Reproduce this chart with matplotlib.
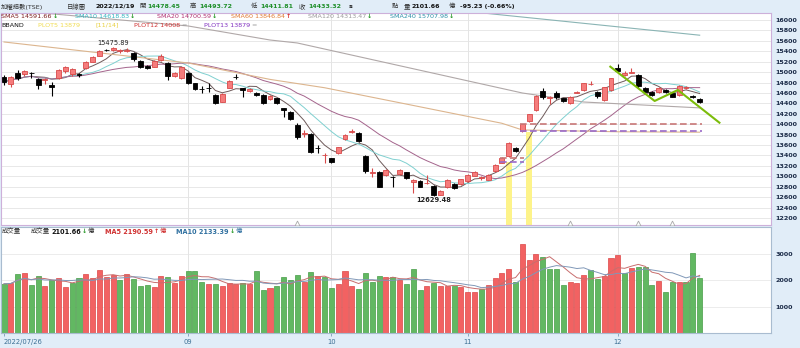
import numpy as np
import pandas as pd
import matplotlib.pyplot as plt

plt.rcParams['font.family'] = ['DejaVu Sans', 'Noto Sans CJK TC']

# daily OHLC, 2022/07/26 .. 2022/12/19
opens = [14912, 14766, 14977, 14958, 14985, 14862, 14849, 14753, 14881, 15021,
         14958, 14960, 15085, 15200, 15315, 15430, 15419, 15405, 15400, 15361,
         15213, 15123, 15104, 15227, 15181, 14925, 14881, 14977, 14785, 14680,
         14695, 14561, 14432, 14701, 14905, 14690, 14643, 14605, 14561, 14478,
         14497, 14306, 14240, 13985, 13812, 13812, 13545, 13400, 13346, 13442,
         13711, 13857, 13837, 13390, 13065, 13089, 13026, 12990, 13045, 13077,
         12886, 12916, 12866, 12814, 12642, 12790, 12853, 12853, 12916, 13012,
         12962, 12930, 13102, 13262, 13396, 13549, 13870, 14068, 14273, 14643,
         14497, 14593, 14497, 14401, 14605, 14657, 14765, 14624, 14465, 14657,
         15073, 14945, 14985, 14945, 14701, 14624, 14613, 14657, 14593, 14561,
         14689, 14547, 14478.45]
highs = [14945, 14925, 15040, 15040, 15000, 14880, 14880, 14816, 15054, 15125,
         15070, 14990, 15215, 15310, 15430, 15445, 15475.89, 15450, 15455, 15390,
         15230, 15140, 15225, 15340, 15200, 14995, 15100, 15000, 14800, 14730,
         14790, 14580, 14590, 14850, 14964, 14700, 14700, 14615, 14575, 14560,
         14510, 14320, 14255, 14029, 13880, 13830, 13601, 13453, 13360, 13570,
         13810, 13900, 13860, 13400, 13154, 13100, 13135, 13000, 13135, 13090,
         12945, 12930, 13026, 12830, 12730, 12945, 12870, 12955, 13040, 13095,
         13000, 13040, 13230, 13370, 13650, 13570, 14010, 14200, 14560, 14700,
         14540, 14640, 14510, 14540, 14640, 14800, 14830, 14640, 14720, 14890,
         15156, 15020, 15085, 14965, 14715, 14640, 14720, 14670, 14610, 14745,
         14740, 14560, 14493.72]
lows = [14753, 14720, 14849, 14930, 14892, 14670, 14772, 14542, 14860, 14990,
        14920, 14904, 15060, 15185, 15300, 15400, 15400, 15361, 15385, 15220,
        15070, 15050, 15090, 15210, 14849, 14900, 14860, 14780, 14660, 14600,
        14620, 14380, 14420, 14690, 14862, 14517, 14620, 14545, 14390, 14460,
        14385, 14144, 14085, 13711, 13761, 13440, 13442, 13262, 13250, 13430,
        13700, 13840, 13660, 13070, 12981, 12790, 13000, 12801, 13030, 12950,
        12686, 12790, 12850, 12629.48, 12635, 12780, 12750, 12840, 12900, 13000,
        12930, 12920, 13090, 13250, 13380, 13470, 13850, 14050, 14260, 14490,
        14388, 14480, 14430, 14380, 14595, 14640, 14750, 14500, 14450, 14640,
        15010, 14930, 14975, 14700, 14610, 14545, 14600, 14600, 14515, 14550,
        14680, 14500, 14411.81]
closes = [14804, 14912, 14881, 15021, 14977, 14753, 14868, 14714, 15040, 15104,
          15054, 14945, 15200, 15296, 15411, 15424, 15468, 15420, 15430, 15246,
          15098, 15073, 15213, 15309, 14925, 14977, 15092, 14797, 14676, 14670,
          14689, 14401, 14580, 14835, 14900, 14655, 14670, 14561, 14413, 14542,
          14401, 14273, 14100, 13749, 13837, 13461, 13538, 13409, 13281, 13557,
          13793, 13876, 13684, 13095, 13088, 12801, 13122, 12981, 13122, 12962,
          12930, 12801, 12880, 12642, 12719, 12930, 12770, 12943, 13026, 13083,
          12981, 13026, 13218, 13358, 13634, 13486, 13998, 14190, 14542, 14528,
          14520, 14517, 14446, 14528, 14624, 14785, 14772, 14542, 14709, 14881,
          15027, 14990, 15000, 14733, 14624, 14561, 14701, 14613, 14528, 14733,
          14720, 14528, 14433.32]
# turnover, 億
volumes = [1874, 1900, 2252, 2290, 1837, 2189, 1799, 2000, 2088, 1761,
           1900, 2101, 2252, 2101, 2390, 2151, 2214, 2000, 2252, 2063,
           1774, 1811, 1736, 2164, 2151, 1887, 2176, 2365, 2365, 1925,
           1874, 1862, 1799, 1900, 1874, 1912, 1849, 2378, 1648, 1711,
           1799, 2139, 2038, 2227, 1950, 2315, 2189, 2151, 1723, 1849,
           2378, 1799, 1673, 2290, 1925, 2164, 2126, 2126, 2010, 1880,
           2440, 1640, 1800, 1920, 1780, 1790, 1790, 1740, 1580, 1580,
           1660, 1820, 2080, 2270, 2440, 1940, 3400, 2790, 3020, 2880,
           2440, 2420, 1810, 1940, 1920, 2220, 2410, 2050, 2160, 2870,
           2960, 2280, 2460, 2500, 2500, 1840, 1990, 1580, 1940, 1940,
           1960, 3030, 2101.66]

# long averages (need history before the window): knots read by bar index
sma60_idx = [0, 27, 39, 47, 60, 73, 76, 90, 102]
sma60_val = [15578, 15175, 14860, 14700, 14360, 14018, 13890, 13855, 13846.84]
sma120_idx = [0, 27, 39, 43, 76, 85, 102]
sma120_val = [16200, 15885, 15616, 15559, 14599, 14426, 14313.47]
sma240_idx = [40, 102]
sma240_val = [16539, 15707.98]

# PLOT12 / PLOT13 levels: (first bar, last bar, level)
plot12 = [(73, 76, 13346), (76, 102, 14008)]
plot13 = [(73, 76, 13281), (76, 102, 13879)]
# signal days and the level where the marker starts
signal_idx = [74, 77]
signal_top = [13275, 13857]
# hand drawn trend line
trend_idx = [88.9, 95.4, 98.8, 104.9]
trend_val = [15104, 14446, 14657, 14029]
tri_idx = [43, 83, 93, 98]

month_idx = [0, 27, 48, 68, 90]
month_labels = ['2022/07/26', '09', '10', '11', '12']
price_ticks = list(range(12200, 16001, 200))
vol_ticks = [1000, 2000, 3000]

o, h, l, c = (np.array(a, dtype=float) for a in (opens, highs, lows, closes))
v = np.array(volumes)
x = np.arange(len(c))
up = c >= o
vol_up = np.r_[False, c[1:] > c[:-1]]
cs = pd.Series(c)
sma5 = cs.rolling(5, min_periods=1).mean()
sma10 = cs.rolling(10, min_periods=1).mean()
sma20 = cs.rolling(20, min_periods=1).mean()
vs = pd.Series(v)
vma5 = vs.rolling(5, min_periods=1).mean()
vma10 = vs.rolling(10, min_periods=1).mean()

W, H = 800, 348
bg = '#e1edf8'
fig = plt.figure(figsize=(W / 100, H / 100), dpi=100, facecolor=bg)
renderer = fig.canvas.get_renderer()


def box(left, top, right, bottom):
    return [left / W, 1 - bottom / H, (right - left) / W, (bottom - top) / H]


def ftext(px, py, s, **kw):
    kw.setdefault('fontsize', 4.6)
    kw.setdefault('va', 'center')
    return fig.text(px / W, 1 - py / H, s, **kw)


def run(px, py, pieces, gap=1.0):
    # lay a row of differently styled strings one after another
    for s, kw in pieces:
        t = ftext(px, py, s, **kw)
        px += t.get_window_extent(renderer).width + gap


ax = fig.add_axes(box(1, 13, 771, 225))
axv = fig.add_axes(box(1, 227, 771, 333))
xlim = (-0.44, 112.46)

# ---- price panel
ax.set_xlim(*xlim)
ax.set_ylim(12066, 16134)
for y in price_ticks:
    ax.axhline(y, color='#e8e8e8', lw=0.7, zorder=0)
for m in month_idx[1:]:
    ax.axvline(m, color='#e4e4e4', lw=0.7, zorder=0)

for i, top in zip(signal_idx, signal_top):
    ax.bar(i, top - 12066, bottom=12066, width=0.9, color='#fdf38a', lw=0, zorder=1)

ax.plot(x, sma5, color='#6e5a5a', lw=0.7, zorder=2)
ax.plot(x, sma10, color='#7fd0d0', lw=0.7, zorder=2)
ax.plot(x, sma20, color='#a4648c', lw=0.7, zorder=2)
ax.plot(sma60_idx, sma60_val, color='#dcb58e', lw=0.8, zorder=2)
ax.plot(sma120_idx, sma120_val, color='#b0a8a8', lw=0.8, zorder=2)
ax.plot(sma240_idx, sma240_val, color='#8ab4b4', lw=0.8, zorder=2)

ax.vlines(x[up], l[up], h[up], color='#d84a4a', lw=0.8, zorder=3)
ax.vlines(x[~up], l[~up], h[~up], color='black', lw=0.8, zorder=3)
ax.bar(x[up], np.abs(c - o)[up], bottom=np.minimum(o, c)[up], width=0.72,
       color='#f57c7c', edgecolor='#d84a4a', lw=0.6, zorder=4)
ax.bar(x[~up], np.abs(c - o)[~up], bottom=np.minimum(o, c)[~up], width=0.72,
       color='black', edgecolor='black', lw=0.6, zorder=4)

for segs, col in ((plot12, '#c87878'), (plot13, '#9a6ac8')):
    for a, b, lev in segs:
        ax.plot([a - 0.3, b + 0.3], [lev, lev], color=col, lw=1.2,
                dashes=(4, 2), zorder=5)

ax.plot(trend_idx, trend_val, color='#7cbc0a', lw=1.5, zorder=6)
ax.plot(tri_idx, [12100] * len(tri_idx), ls='none', marker='^', ms=3.5,
        mfc='white', mec='#a8a8a8', mew=0.6, zorder=6)

hi = int(np.argmax(h))
lo = int(np.argmin(l))
ax.annotate(f'{h[hi]:.2f}', (hi, h[hi]), xytext=(0, 1), textcoords='offset points',
            ha='center', va='bottom', fontsize=4.8, color='#222')
ax.annotate(f'{l[lo]:.2f}', (lo, l[lo]), xytext=(0, -1), textcoords='offset points',
            ha='center', va='top', fontsize=4.8, color='#222', fontweight='bold')

ax.set_yticks(price_ticks)
ax.yaxis.tick_right()
ax.tick_params(axis='y', length=0, pad=3, labelsize=4.6, labelcolor='#1b2b48')
for t in ax.get_yticklabels():
    t.set_fontweight('bold')
ax.set_xticks([])
for s in ax.spines.values():
    s.set_color('#cdb0da')
    s.set_linewidth(0.8)

# ---- volume panel
axv.set_xlim(*xlim)
axv.set_ylim(0, 4038)
for y in vol_ticks:
    axv.axhline(y, color='#ececec', lw=0.7, zorder=0)
for m in month_idx[1:]:
    axv.axvline(m, color='#e4e4e4', lw=0.7, zorder=0)
axv.bar(x[vol_up], v[vol_up], width=0.74, color='#f26262', edgecolor='#dc4646',
        lw=0.5, zorder=2)
axv.bar(x[~vol_up], v[~vol_up], width=0.74, color='#62b862', edgecolor='#469c46',
        lw=0.5, zorder=2)
axv.plot(x, vma5, color='#c86e6e', lw=0.7, zorder=3)
axv.plot(x, vma10, color='#8098b8', lw=0.7, zorder=3)

axv.set_yticks(vol_ticks)
axv.yaxis.tick_right()
axv.tick_params(axis='y', length=0, pad=3, labelsize=4.6, labelcolor='#1b2b48')
for t in axv.get_yticklabels():
    t.set_fontweight('bold')
axv.set_xticks(month_idx)
axv.set_xticklabels(month_labels)
axv.tick_params(axis='x', length=2, width=0.6, color='#7a9ab8', pad=2,
                labelsize=4.9, labelcolor='#3b6f94')
axv.get_xticklabels()[0].set_horizontalalignment('left')
for s in axv.spines.values():
    s.set_color('#a9bcd0')
    s.set_linewidth(0.8)

# ---- header line
green = '#1f8f2a'
plain = dict(color='#333', fontsize=4.6)
num = dict(color=green, fontweight='bold', fontsize=4.5)
blk = dict(color='#111', fontweight='bold', fontsize=4.5)
ftext(1, 6.5, '加權指數(TSE)', **plain)
ftext(67, 6.5, '日線圖', **plain)
ftext(96, 6.5, '2022/12/19', **blk)
ftext(139, 6.5, '開', **plain)
ftext(147, 6.5, f'{opens[-1]:.2f}', **num)
ftext(190, 6.5, '高', **plain)
ftext(199, 6.5, f'{highs[-1]:.2f}', **num)
ftext(251, 6.5, '低', **plain)
ftext(260, 6.5, f'{lows[-1]:.2f}', **num)
ftext(299, 6.5, '收', **plain)
ftext(308, 6.5, f'{closes[-1]:.2f}', **num)
ftext(349, 6.5, 's', **blk)
ftext(392, 6.5, '點', **plain)
ftext(404, 6.5, '量', **plain)
ftext(412, 6.5, f'{volumes[-1]:.2f}', **blk)
ftext(449, 6.5, '億', **plain)
ftext(460, 6.5, '-95.23 (-0.66%)', **blk)

dn = ('↓', dict(color='#2a9a2a', fontweight='bold', fontsize=4.6))
ua = ('↑', dict(color='#d83030', fontweight='bold', fontsize=4.6))
legend = [(1, 'SMA5 14591.66', '#7a1a1a', dn), (75, 'SMA10 14618.83', '#2fb5c0', dn),
          (157, 'SMA20 14700.59', '#b03070', dn), (231, 'SMA60 13846.84', '#e07a30', ua),
          (308, 'SMA120 14313.47', '#9a9a9a', dn), (390, 'SMA240 15707.98', '#2a90a8', dn)]
for px, s, col, arrow in legend:
    run(px, 16.7, [(s, dict(color=col, fontsize=4.6)), arrow])

ftext(1, 25.3, 'BBAND', color='#111')
ftext(38, 25.3, 'PLOT5 13879', color='#f0dc50')
ftext(95, 25.3, '[11/14]', color='#e8d040')
run(134, 25.3, [('PLOT12 14008', dict(color='#d03030')), ('=', dict(color='#999'))])
run(204, 25.3, [('PLOT13 13879', dict(color='#8030c0')), ('=', dict(color='#999'))])

# ---- volume legend
vy = 231.5
vb = dict(fontsize=4.7, fontweight='bold')
ftext(2, vy, '成交量', **plain)
run(31, vy, [('成交量', plain), (f'{volumes[-1]:.2f}', dict(color='#111', **vb)),
             dn, ('億', plain)])
run(105, vy, [('MA5 2190.59', dict(color='#d03030', **vb)), ua,
              ('億', dict(color='#d03030', fontsize=4.6))])
run(176, vy, [('MA10 2133.39', dict(color='#3070a0', **vb)), dn,
              ('億', dict(color='#3070a0', fontsize=4.6))])

fig.savefig('out.png', dpi=100, facecolor=bg)
